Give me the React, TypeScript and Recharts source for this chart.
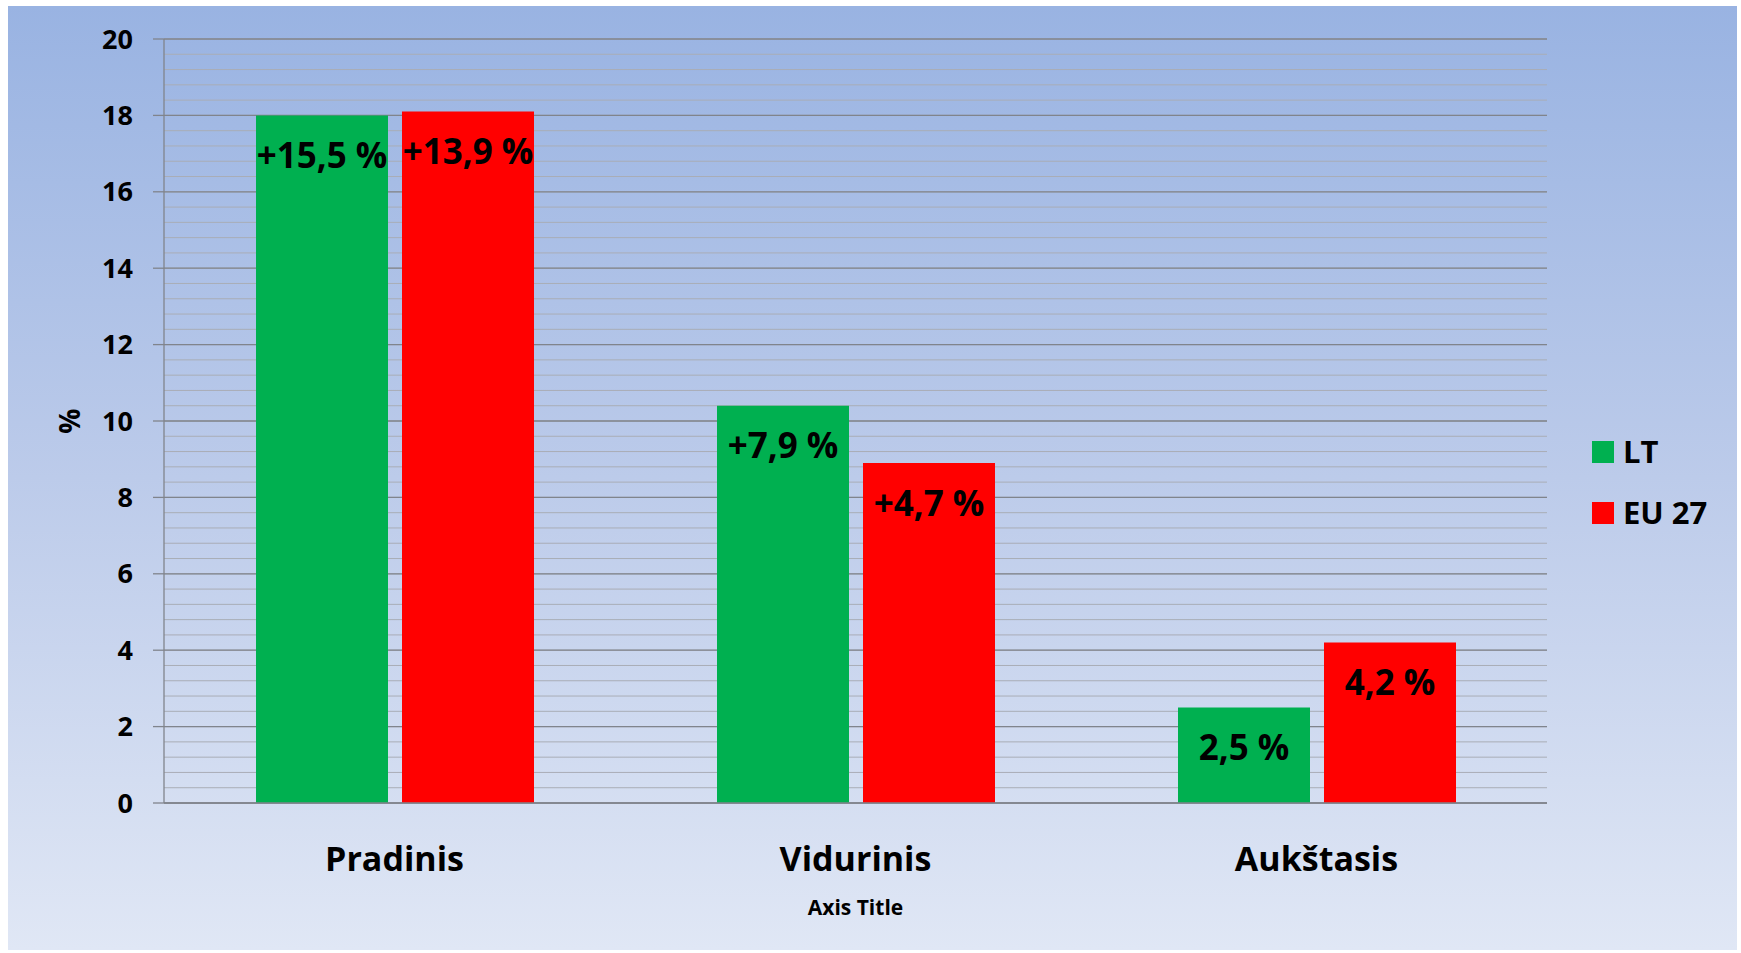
import React from 'react';
import { BarChart, Bar, XAxis, YAxis, CartesianGrid, Legend, LabelList, Label } from 'recharts';

// Education level categories
const categories = ['Pradinis', 'Vidurinis', 'Aukštasis'];

// Series values (%)
const ltValues = [18.0, 10.4, 2.5];
const euValues = [18.1, 8.9, 4.2];

// Texts written inside the bars
const ltLabels = ['+15,5 %', '+7,9 %', '2,5 %'];
const euLabels = ['+13,9 %', '+4,7 %', '4,2 %'];

// Series names, in legend order
const seriesNames = ['LT', 'EU 27'];

// Axis ticks
const yTicks = [0, 2, 4, 6, 8, 10, 12, 14, 16, 18, 20];
const minorTicks = Array.from({ length: 51 }, (_, i) => Math.round(i * 4) / 10);

const FONT = '"Open Sans", "DejaVu Sans", sans-serif';
const LT_COLOR = '#00b050';
const EU_COLOR = '#ff0000';
const LEGEND_WIDTH = 140;

const chartData = categories.map((name, i) => ({
  name,
  lt: ltValues[i],
  eu: euValues[i],
  ltLabel: ltLabels[i],
  euLabel: euLabels[i],
}));

// Label drawn near the top of each bar
const InsideLabel = (props: any) => {
  const { x, y, width, value } = props;
  return (
    <text
      x={x + width / 2}
      y={y + 39}
      textAnchor="middle"
      dominantBaseline="central"
      fontFamily={FONT}
      fontWeight={700}
      fontSize={35}
      fill="#000"
    >
      {value}
    </text>
  );
};

const CategoryTick = (props: any) => {
  const { x, y, payload } = props;
  return (
    <text
      x={x}
      y={y + 55}
      textAnchor="middle"
      dominantBaseline="central"
      fontFamily={FONT}
      fontWeight={700}
      fontSize={34}
      fill="#000"
    >
      {payload.value}
    </text>
  );
};

const PercentLabel = (props: any) => {
  const { viewBox } = props;
  const cx = viewBox.x + 69;
  const cy = viewBox.y + viewBox.height / 2;
  return (
    <text
      x={cx}
      y={cy}
      transform={`rotate(-90 ${cx} ${cy})`}
      textAnchor="middle"
      dominantBaseline="central"
      fontFamily={FONT}
      fontWeight={700}
      fontSize={28}
      fill="#000"
    >
      %
    </text>
  );
};

const renderLegend = (props: any) => {
  const items = [...(props.payload || [])].sort(
    (a: any, b: any) => seriesNames.indexOf(a.value) - seriesNames.indexOf(b.value)
  );
  return (
    <div style={{ fontFamily: FONT, fontWeight: 700, fontSize: 31, color: '#000' }}>
      {items.map((entry: any) => (
        <div key={entry.value} style={{ display: 'flex', alignItems: 'center', height: 61 }}>
          <span
            style={{
              display: 'inline-block',
              width: 22,
              height: 22,
              background: entry.color,
              marginRight: 9,
            }}
          />
          <span style={{ lineHeight: 1 }}>{entry.value}</span>
        </div>
      ))}
    </div>
  );
};

export default function App() {
  return (
    <div style={{ position: 'relative', width: 1741, height: 953, background: '#fff', overflow: 'hidden' }}>
      <style>{'body{margin:0}'}</style>
      <div
        style={{
          position: 'absolute',
          left: 8,
          top: 6,
          width: 1729,
          height: 944,
          background: 'linear-gradient(to bottom, #99b3e2 0%, #bccbea 50%, #e0e7f5 100%)',
        }}
      />
      <div style={{ position: 'absolute', left: 0, top: 0 }}>
        <BarChart
          width={1741}
          height={953}
          data={chartData}
          margin={{ top: 39, right: 194 - LEGEND_WIDTH, bottom: 0, left: 0 }}
          barGap={14}
        >
          <CartesianGrid
            vertical={false}
            horizontalValues={minorTicks}
            stroke="#a9adb6"
            strokeWidth={1}
          />
          <CartesianGrid vertical={false} stroke="#80848c" strokeWidth={1.3} />
          <XAxis
            dataKey="name"
            height={150}
            tickLine={false}
            tickSize={0}
            tickMargin={0}
            axisLine={{ stroke: '#80848c', strokeWidth: 1.3 }}
            tick={<CategoryTick />}
            interval={0}
          >
            <Label
              value="Axis Title"
              position="insideBottom"
              offset={38}
              style={{ fontFamily: FONT, fontWeight: 700, fontSize: 21, fill: '#000' }}
            />
          </XAxis>
          <YAxis
            width={164}
            domain={[0, 20]}
            ticks={yTicks}
            interval={0}
            tickSize={11}
            tickMargin={20}
            axisLine={{ stroke: '#80848c', strokeWidth: 1.3 }}
            tickLine={{ stroke: '#80848c', strokeWidth: 1.3 }}
            tick={{ fontFamily: FONT, fontWeight: 700, fontSize: 27, fill: '#000' }}
          >
            <Label content={<PercentLabel />} />
          </YAxis>
          <Legend
            layout="vertical"
            verticalAlign="top"
            align="right"
            wrapperStyle={{ top: 421, left: 1592, width: LEGEND_WIDTH }}
            content={renderLegend}
          />
          <Bar dataKey="lt" name={seriesNames[0]} fill={LT_COLOR} barSize={132} isAnimationActive={false}>
            <LabelList dataKey="ltLabel" content={<InsideLabel />} />
          </Bar>
          <Bar dataKey="eu" name={seriesNames[1]} fill={EU_COLOR} barSize={132} isAnimationActive={false}>
            <LabelList dataKey="euLabel" content={<InsideLabel />} />
          </Bar>
        </BarChart>
      </div>
    </div>
  );
}
